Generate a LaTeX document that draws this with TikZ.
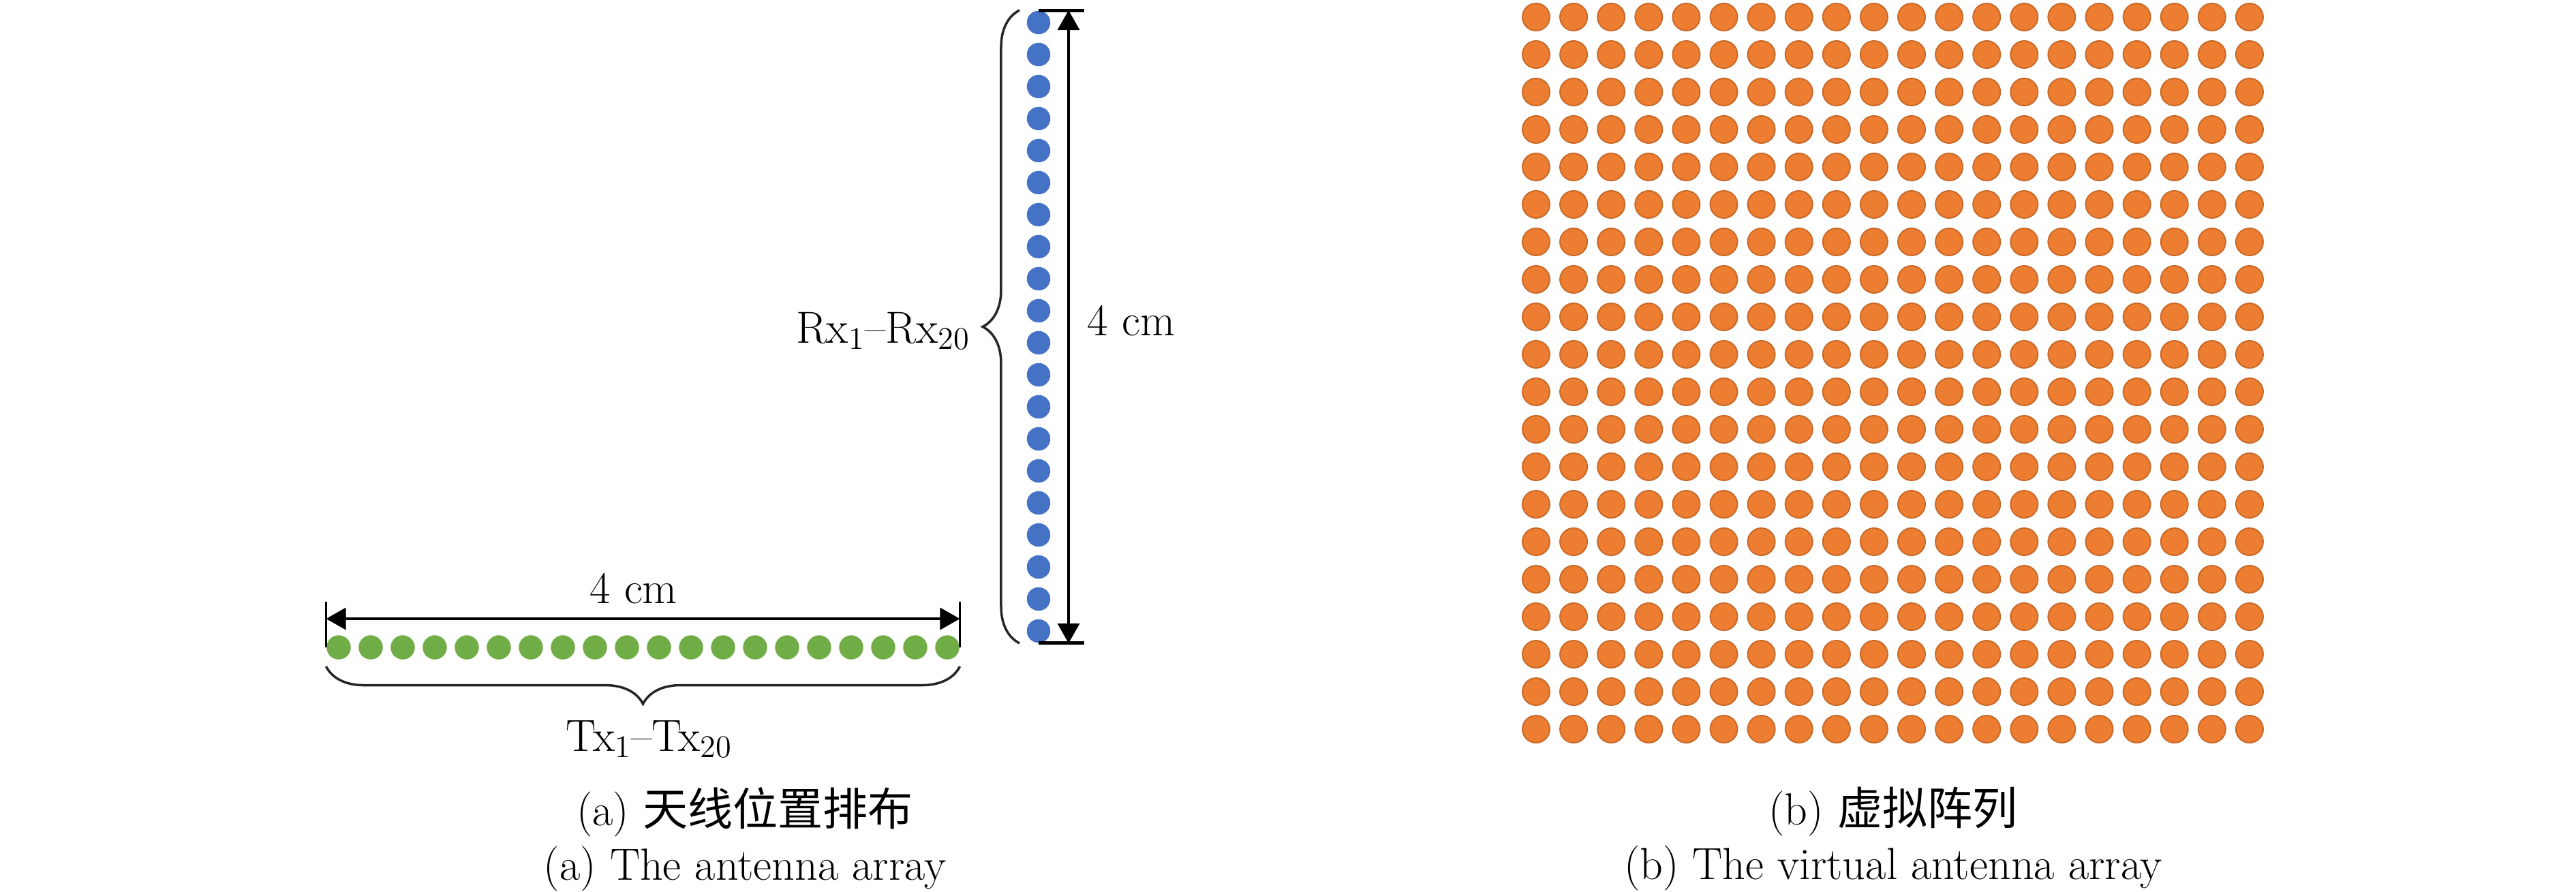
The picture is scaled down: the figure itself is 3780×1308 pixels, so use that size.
\documentclass[tikz,border=0pt]{standalone}
\usepackage{fontspec}
\newfontfamily\cjk{Noto Sans CJK SC}
\usetikzlibrary{arrows.meta,decorations.pathreplacing}
\definecolor{txgreen}{HTML}{70AD47}
\definecolor{rxblue}{HTML}{4472C4}
\definecolor{vorange}{HTML}{ED7D31}
\begin{document}
\begin{tikzpicture}[x=0.01cm,y=-0.01cm,
  lbl/.style={font=\fontsize{18.8}{22.6}\selectfont, inner sep=0pt, anchor=base},
  txdot/.style={circle, fill=txgreen, minimum size=0.355cm, inner sep=0pt},
  rxdot/.style={circle, fill=rxblue, minimum size=0.345cm, inner sep=0pt},
  vdot/.style={circle, fill=vorange, draw=vorange!85!black, line width=0.02cm, minimum size=0.40cm, inner sep=0pt},
  dim/.style={line width=0.035cm, {Triangle[length=0.29cm,width=0.32cm]}-{Triangle[length=0.29cm,width=0.32cm]}},
  ticksty/.style={line width=0.03cm},
  endbar/.style={line width=0.05cm},
  bracesty/.style={line width=0.035cm, draw=black!85, decorate},
]
\useasboundingbox (0,0) rectangle (3780,1308);
% transmit array
\foreach \i in {1,...,20} \node[txdot] (tx\i) at ({497+47*(\i-1)},950) {};
% receive array
\foreach \i in {1,...,20} \node[rxdot] (rx\i) at (1524,{33+47*(\i-1)}) {};
% virtual array
\foreach \i in {1,...,20} \foreach \j in {1,...,20}
  \node[vdot] (v\i-\j) at ({2254+55.1*(\i-1)},{25+55*(\j-1)}) {};

% horizontal dimension
\coordinate (hy) at (0,908);
\coordinate (ht) at (0,883);
\coordinate (by) at (0,978);
\draw[ticksty] (tx1.west) -- (tx1.west |- ht);
\draw[ticksty] (tx20.east) -- (tx20.east |- ht);
\draw[dim] (tx1.west |- hy) -- (tx20.east |- hy);
\draw[bracesty, decoration={brace, mirror, amplitude=0.55cm}] (tx1.west |- by) -- (tx20.east |- by);

% vertical dimension
\coordinate (vx) at (1568,0);
\coordinate (barR) at (1591,0);
\coordinate (bx) at (1496,0);
\draw[endbar] (rx1.north) -- (rx1.north -| barR);
\draw[endbar] (rx20.south) -- (rx20.south -| barR);
\draw[dim] (rx1.north -| vx) -- (rx20.south -| vx);
\draw[bracesty, decoration={brace, amplitude=0.54cm}] (rx20.south -| bx) -- (rx1.north -| bx);

% labels
\node[lbl] (hcm) at (930,885) {4 cm};
\node[lbl] (txl) at (953,1102) {Tx\textsubscript{1}--Tx\textsubscript{20}};
\node[lbl] (rxl) at (1296,503) {Rx\textsubscript{1}--Rx\textsubscript{20}};
\node[lbl] (vcm) at (1660,492) {4 cm};

% captions
\node[lbl] (capa1) at (1093,1211) {(a) {\cjk 天线位置排布}};
\node[lbl] (capa2) at (1093,1291) {(a) The antenna array};
\node[lbl] (capb1) at (2778,1210) {(b) {\cjk 虚拟阵列}};
\node[lbl] (capb2) at (2778,1290) {(b) The virtual antenna array};
\end{tikzpicture}
\end{document}
